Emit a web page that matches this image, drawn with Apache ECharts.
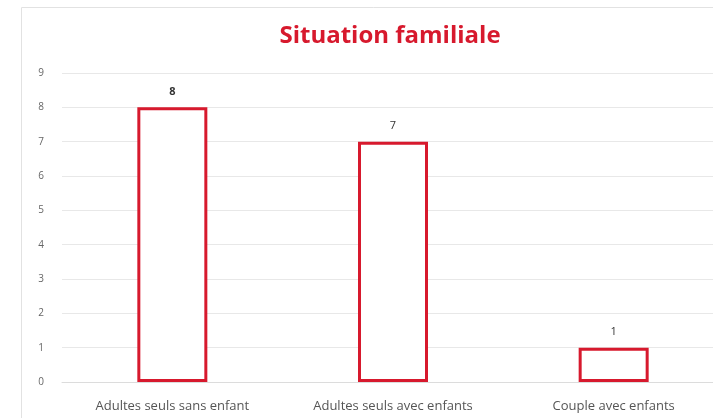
<!DOCTYPE html>
<html><head><meta charset="utf-8">
<script src="https://cdn.jsdelivr.net/npm/echarts@6/dist/echarts.min.js"></script>
<style>html,body{margin:0;padding:0;background:#fff;overflow:hidden}#c{width:724px;height:418px}</style>
</head><body><div id="c"></div>
<script>
const categories = ['Adultes seuls sans enfant', 'Adultes seuls avec enfants', 'Couple avec enfants'];
const values = [8, 7, 1];
const yTicks = [0, 1, 2, 3, 4, 5, 6, 7, 8, 9];

const chart = echarts.init(document.getElementById('c'));
chart.setOption({
  animation: false,
  graphic: [{
    type: 'rect', shape: { x: 21.5, y: 7.5, width: 800, height: 500 },
    style: { fill: 'none', stroke: '#e2e2e2', lineWidth: 1 }, z: -10
  }],
  title: {
    text: 'Situation familiale', left: 385, top: 19, textAlign: 'center',
    textStyle: { color: '#d7192d', fontSize: 24, fontWeight: 'bold', fontFamily: 'Open Sans' }
  },
  grid: { left: 62, top: 73, right: 0, bottom: 36, containLabel: false },
  xAxis: {
    type: 'category', data: categories,
    axisLine: { show: true, lineStyle: { color: '#dcdcdc' } },
    axisTick: { show: false },
    axisLabel: { color: '#555', fontSize: 13, margin: 18, fontFamily: 'Open Sans' }
  },
  yAxis: {
    type: 'value', min: yTicks[0], max: yTicks[yTicks.length - 1], interval: 1,
    axisLine: { show: false }, axisTick: { show: false },
    axisLabel: { color: '#666', fontSize: 10, margin: 18, fontFamily: 'Open Sans' },
    splitLine: { lineStyle: { color: '#e8e8e8' } }
  },
  series: [{
    type: 'bar', barWidth: 70,
    data: values.map((v, i) => ({ value: v, label: { fontWeight: i === 0 ? 'bold' : 'normal' } })),
    itemStyle: { color: '#fff', borderColor: '#d7192d', borderWidth: 3 },
    label: { show: true, position: 'top', distance: 10, color: '#333', fontSize: 11, fontFamily: 'Open Sans' }
  }]
});
</script></body></html>
